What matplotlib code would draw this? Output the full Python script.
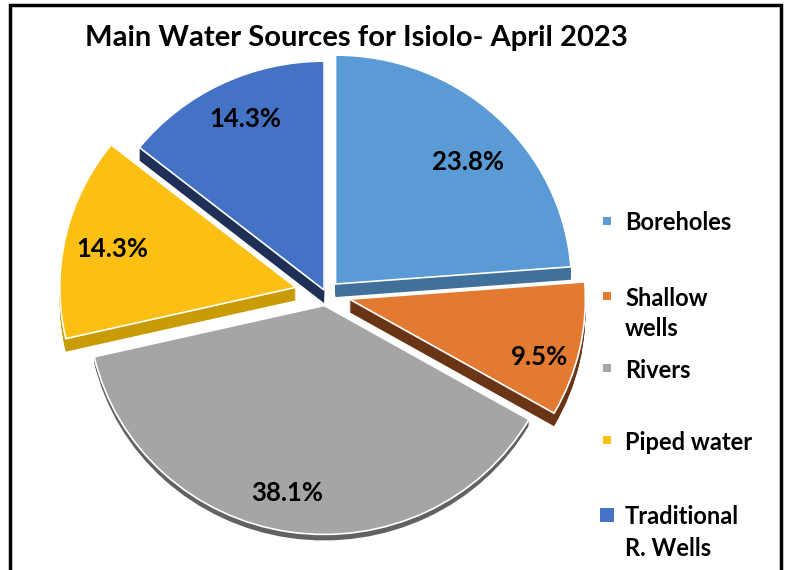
import matplotlib
matplotlib.use("Agg")
import matplotlib.pyplot as plt
from matplotlib.patches import Rectangle

# Data
sources = ["Boreholes", "Shallow\nwells", "Rivers", "Piped water", "Traditional\nR. Wells"]
shares = [23.8, 9.5, 38.1, 14.3, 14.3]

# Styling
top_colors = ["#5b9bd5", "#e27a32", "#a5a5a5", "#fcbf14", "#4472c4"]
side_colors = ["#41709a", "#6a3516", "#626262", "#c99b04", "#1f2f56"]
explode_px = [14, 24, 12, 31, 4.5]
depth_px = [13, 13, 6, 13, 13]
# small nudges of the percentage labels (pixels, right / up)
label_nudge = [(3, -14), (4, -17), (-9, -4), (3, -3), (4, 4)]

W, H = 792, 570
SY = 0.97  # vertical squash of the pie (pixels per data unit in y)
FONT = ["Lato", "DejaVu Sans"]

fig = plt.figure(figsize=(W / 100, H / 100), dpi=100)
ax = fig.add_axes([0, 0, 1, 1])


def py(y_px):
    """Pixel row (from top) to data y."""
    return (H - y_px) / SY


R = 236
cx, cy = 326, py(294)

# Extruded sides: stacked copies of the pie, shifted downward
for k in range(max(depth_px), 0, -1):
    cols = [c if dp >= k else "none" for c, dp in zip(side_colors, depth_px)]
    ax.pie(shares, radius=R, center=(cx, cy - k / SY), explode=explode_px,
           colors=cols, startangle=90, counterclock=False, frame=True,
           wedgeprops=dict(linewidth=0))

# Top faces with percentage labels
wedges, _, autotexts = ax.pie(
    shares, radius=R, center=(cx, cy), explode=explode_px, colors=top_colors,
    startangle=90, counterclock=False, frame=True,
    wedgeprops=dict(edgecolor="white", linewidth=1.2),
    autopct="%.1f%%", pctdistance=0.81,
    textprops=dict(fontsize=18.5, fontweight="bold", color="black", family=FONT),
)
for t, (dx, dy) in zip(autotexts, label_nudge):
    x, y = t.get_position()
    t.set_position((x + dx, y + dy / SY))

ax.set_aspect("auto")
ax.set_xlim(0, W)
ax.set_ylim(0, H / SY)
ax.axis("off")

# Title
ax.text(356, py(38), "Main Water Sources for Isiolo- April 2023", ha="center",
        va="center", fontsize=21, fontweight="bold", family=FONT)

# Legend
legend_y = [221, 296, 368, 440, 515]
marker_px = [8, 8, 8, 8, 14]
for label, col, y, ms in zip(sources, top_colors, legend_y, marker_px):
    ax.add_patch(Rectangle((607 - ms / 2, py(y + ms / 2)), ms, ms / SY,
                           facecolor=col, edgecolor="none"))
    for i, line in enumerate(label.split("\n")):
        ax.text(625, py(y + 31 * i), line, ha="left", va="center_baseline",
                fontsize=17, fontweight="bold", family=FONT)

# Outer frame
ax.add_patch(Rectangle((10, py(H + 10)), 771, (H + 5) / SY, fill=False,
                       edgecolor="black", linewidth=2.5, clip_on=False))

fig.savefig("out.png", dpi=100)
